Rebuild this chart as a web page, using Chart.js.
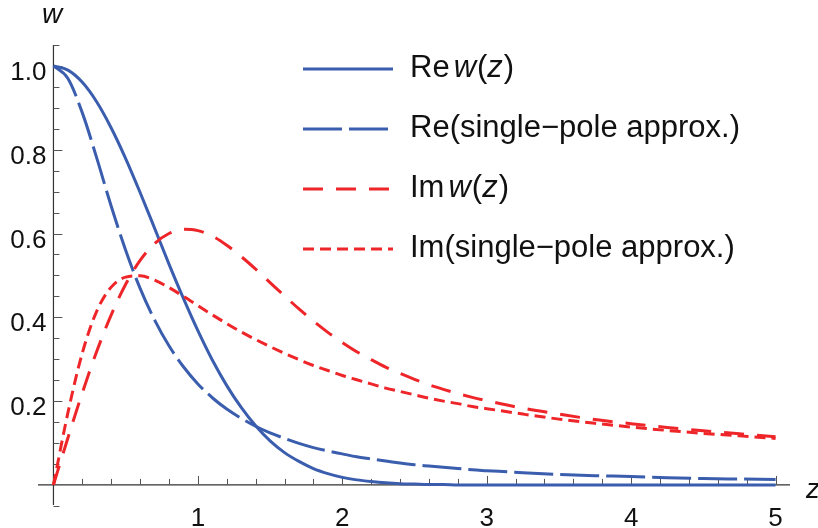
<!DOCTYPE html>
<html>
<head>
<meta charset="utf-8">
<script src="https://cdn.jsdelivr.net/npm/chart.js@4"></script>
<style>
  html, body { margin: 0; padding: 0; background: #fff; }
  #wrap { width: 818px; height: 528px; }
</style>
</head>
<body>
<div id="wrap"><canvas id="chart" width="818" height="528"></canvas></div>
<script>
// sample positions along z
const zValues = [0, 0.1, 0.2, 0.3, 0.4, 0.5, 0.6, 0.7, 0.8, 0.9, 1.0,
  1.1, 1.2, 1.3, 1.4, 1.5, 1.6, 1.7, 1.8, 1.9, 2.0,
  2.1, 2.2, 2.3, 2.4, 2.5, 2.6, 2.7, 2.8, 2.9, 3.0,
  3.25, 3.5, 3.75, 4.0, 4.25, 4.5, 4.75, 5.0];

const reW = [1, 0.990, 0.961, 0.914, 0.852, 0.779, 0.698, 0.613, 0.527, 0.445, 0.368,
  0.298, 0.237, 0.185, 0.141, 0.105, 0.077, 0.056, 0.039, 0.027, 0.018,
  0.012, 0.008, 0.005, 0.003, 0.002, 0.001, 0.001, 0, 0, 0,
  0, 0, 0, 0, 0, 0, 0, 0];

const reApprox = [1, 0.970, 0.888, 0.780, 0.665, 0.560, 0.469, 0.394, 0.332, 0.282, 0.241,
  0.208, 0.181, 0.159, 0.140, 0.124, 0.111, 0.099, 0.089, 0.081, 0.074,
  0.067, 0.062, 0.057, 0.052, 0.048, 0.045, 0.042, 0.039, 0.036, 0.034,
  0.029, 0.025, 0.022, 0.020, 0.017, 0.015, 0.014, 0.013];

const imW = [0, 0.112, 0.220, 0.319, 0.406, 0.479, 0.536, 0.576, 0.600, 0.610, 0.607,
  0.594, 0.572, 0.545, 0.515, 0.483, 0.451, 0.420, 0.391, 0.364, 0.340,
  0.318, 0.299, 0.281, 0.266, 0.252, 0.239, 0.228, 0.218, 0.209, 0.201,
  0.183, 0.169, 0.156, 0.146, 0.137, 0.129, 0.122, 0.115];

const imApprox = [0, 0.172, 0.315, 0.415, 0.472, 0.496, 0.499, 0.489, 0.471, 0.450, 0.428,
  0.406, 0.385, 0.365, 0.347, 0.330, 0.314, 0.299, 0.285, 0.273, 0.261,
  0.251, 0.241, 0.231, 0.223, 0.215, 0.207, 0.200, 0.194, 0.187, 0.182,
  0.169, 0.157, 0.147, 0.138, 0.130, 0.123, 0.117, 0.111];

const xTickLabels = ['1', '2', '3', '4', '5'];
const yTickLabels = ['0.2', '0.4', '0.6', '0.8', '1.0'];

const BLUE = '#3a5dae';
const RED = '#ee2529';

function pts(ys) {
  return zValues.map((z, i) => ({ x: z, y: ys[i] }));
}

// legend entries: text split into [text, italic, extra gap after]
const legendItems = [
  { color: BLUE, dash: [], parts: [['Re', false, 4], ['w', true, 1], ['(', false, 0], ['z', true, 1], [')', false, 0]] },
  { color: BLUE, dash: [39, 7], parts: [['Re(single\u2212pole approx.)', false, 0]] },
  { color: RED, dash: [20, 13], parts: [['Im', false, 4], ['w', true, 1], ['(', false, 0], ['z', true, 1], [')', false, 0]] },
  { color: RED, dash: [11, 6], parts: [['Im(single\u2212pole approx.)', false, 0]] }
];

const FONT = '"Liberation Sans", Arial, sans-serif';

// draw the crossing axes, ticks and labels like the original
const axesPlugin = {
  id: 'axes',
  beforeDatasetsDraw(chart) {
    const ctx = chart.ctx;
    const xs = chart.scales.x, ys = chart.scales.y;
    const x0 = xs.getPixelForValue(0), y0 = ys.getPixelForValue(0);
    const area = chart.chartArea;
    ctx.save();
    ctx.strokeStyle = '#333';
    ctx.lineWidth = 1.2;
    ctx.beginPath();
    ctx.moveTo(area.left, y0); ctx.lineTo(area.right, y0);
    ctx.moveTo(x0, area.top); ctx.lineTo(x0, area.bottom);
    ctx.stroke();

    ctx.lineWidth = 1;
    ctx.strokeStyle = '#555';
    ctx.beginPath();
    // x ticks every 0.2
    for (let k = 1; k <= 25; k++) {
      const v = k * 0.2;
      const px = Math.round(xs.getPixelForValue(v)) + 0.5;
      const len = (k % 5 === 0) ? 9 : 6;
      ctx.moveTo(px, y0); ctx.lineTo(px, y0 - len);
    }
    // y ticks every 0.05
    for (let k = -1; k <= 21; k++) {
      if (k === 0) continue;
      const v = k * 0.05;
      const py = Math.round(ys.getPixelForValue(v)) + 0.5;
      const len = (k % 4 === 0) ? 9 : 6;
      ctx.moveTo(x0, py); ctx.lineTo(x0 + len, py);
    }
    ctx.stroke();

    ctx.fillStyle = '#111';
    ctx.font = '26px ' + FONT;
    ctx.textAlign = 'center';
    ctx.textBaseline = 'alphabetic';
    xTickLabels.forEach(t => {
      ctx.fillText(t, xs.getPixelForValue(parseFloat(t)), y0 + 41);
    });
    ctx.textAlign = 'right';
    yTickLabels.forEach(t => {
      ctx.fillText(t, x0 - 7, ys.getPixelForValue(parseFloat(t)) + 14);
    });

    // axis names
    ctx.font = 'italic 28px ' + FONT;
    ctx.textAlign = 'center';
    ctx.fillText('w', 52, 23);
    ctx.textAlign = 'left';
    ctx.fillText('z', 806, 498);
    ctx.restore();
  },
  afterDatasetsDraw(chart) {
    const ctx = chart.ctx;
    ctx.save();
    legendItems.forEach((item, i) => {
      const y = 69 + i * 60;
      ctx.strokeStyle = item.color;
      ctx.lineWidth = 3;
      ctx.lineCap = 'butt';
      ctx.setLineDash(item.dash);
      ctx.beginPath();
      ctx.moveTo(303, y); ctx.lineTo(393, y);
      ctx.stroke();
      ctx.setLineDash([]);
      ctx.fillStyle = '#111';
      ctx.textAlign = 'left';
      ctx.textBaseline = 'alphabetic';
      let x = 410;
      item.parts.forEach(([txt, it, gap]) => {
        ctx.font = (it ? 'italic ' : '') + '31px ' + FONT;
        ctx.fillText(txt, x, y + 8);
        x += ctx.measureText(txt).width + gap;
      });
    });
    ctx.restore();
  }
};

function lineSet(label, ys, color, dash) {
  return {
    label: label,
    data: pts(ys),
    borderColor: color,
    borderWidth: 3,
    borderDash: dash,
    borderCapStyle: 'butt',
    pointRadius: 0,
    fill: false,
    cubicInterpolationMode: 'monotone'
  };
}

new Chart(document.getElementById('chart'), {
  type: 'line',
  data: {
    datasets: [
      lineSet('Im(single-pole approx.)', imApprox, RED, [11, 6]),
      lineSet('Im w(z)', imW, RED, [20, 13]),
      lineSet('Re(single-pole approx.)', reApprox, BLUE, [39, 7]),
      lineSet('Re w(z)', reW, BLUE, [])
    ]
  },
  options: {
    responsive: false,
    animation: false,
    clip: false,
    layout: { padding: { left: 38, right: 28, top: 45, bottom: 23 } },
    plugins: { legend: { display: false }, tooltip: { enabled: false } },
    scales: {
      x: { type: 'linear', min: -0.107, max: 5.1, display: false },
      y: { type: 'linear', min: -0.048, max: 1.05, display: false }
    }
  },
  plugins: [axesPlugin]
});
</script>
</body>
</html>
